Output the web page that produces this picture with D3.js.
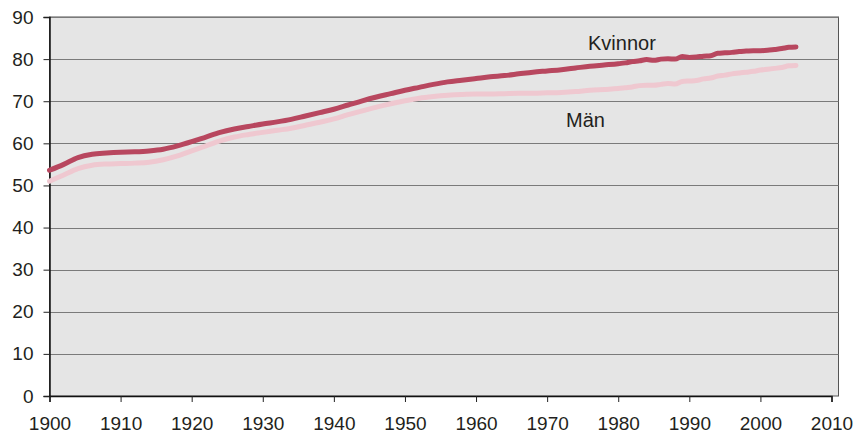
<!DOCTYPE html>
<html lang="sv">
	<head>
		<meta charset="utf-8">
		<title>Medellivslängd Kvinnor och Män</title>
		<script type="text/javascript" src="https://cdn.jsdelivr.net/npm/d3@7"></script>
		<style type="text/css">
			body { margin:0; background:#fff; }
			text { font-family:"Liberation Sans", Arial, sans-serif; fill:#231f20; }
		</style>
	</head>
	<body>
		<script type="text/javascript">

			//Width and height
			var w = 860;
			var h = 434;

			// data
			var years = [1900,1902,1904,1906,1908,1910,1912,1914,1916,1918,1920,1922,1924,1926,1928,1930,1932,1934,1936,1938,
				1940,1942,1944,1946,1948,1950,1952,1954,1956,1958,1960,1962,1964,1966,1968,1970,1972,1974,1976,1978,
				1980,1981,1982,1983,1984,1985,1986,1987,1988,1989,1990,1991,1992,1993,1994,1995,1996,1997,1998,1999,
				2000,2001,2002,2003,2004,2005];
			var kvinnor = [53.6,55.0,56.6,57.4,57.7,57.9,58.0,58.2,58.6,59.4,60.4,61.5,62.6,63.4,64.0,64.6,65.1,65.7,66.5,67.3,
				68.1,69.1,70.1,71.0,71.8,72.6,73.3,74.0,74.6,75.0,75.4,75.8,76.1,76.5,76.9,77.2,77.5,77.9,78.3,78.6,
				78.9,79.1,79.4,79.6,79.9,79.7,80.0,80.1,80.0,80.6,80.4,80.5,80.7,80.8,81.4,81.5,81.6,81.8,81.9,82.0,
				82.0,82.1,82.3,82.5,82.8,82.9];
			var man = [51.0,52.5,54.0,54.8,55.1,55.2,55.3,55.5,56.1,57.0,58.2,59.4,60.6,61.5,62.1,62.6,63.1,63.6,64.3,65.0,
				65.8,66.8,67.7,68.6,69.4,70.1,70.7,71.1,71.4,71.6,71.7,71.7,71.8,71.9,71.9,72.0,72.1,72.3,72.6,72.8,
				73.0,73.2,73.4,73.7,73.8,73.8,74.0,74.2,74.1,74.7,74.8,74.9,75.3,75.5,76.0,76.2,76.5,76.7,76.9,77.1,
				77.4,77.6,77.8,78.0,78.4,78.5];
			var xTicks = [1900,1910,1920,1930,1940,1950,1960,1970,1980,1990,2000,2010];
			var yTicks = [0,10,20,30,40,50,60,70,80,90];

			var svg = d3.select("body")
						.append("svg")
						.attr("width", w)
						.attr("height", h);

			var x = d3.scaleLinear().domain([1900, 2010]).range([49.5, 831.5]);
			var y = d3.scaleLinear().domain([0, 90]).range([396, 17]);

			// plot background
			svg.append("rect")
				.attr("x", 49.5)
				.attr("y", y(90))
				.attr("width", 838.5 - 49.5)
				.attr("height", y(0) - y(90))
				.attr("fill", "#e5e5e5")
				.attr("stroke", "#555")
				.attr("stroke-width", 1);

			// grid
			svg.selectAll("line.grid")
				.data(yTicks.slice(1))
				.enter()
				.append("line")
				.attr("class", "grid")
				.attr("x1", 49.5)
				.attr("x2", 838.5)
				.attr("y1", function(d) { return Math.round(y(d)) + 0.5; })
				.attr("y2", function(d) { return Math.round(y(d)) + 0.5; })
				.attr("stroke", "#7a7a7a")
				.attr("stroke-width", 1);

			// y axis
			var yAxis = svg.append("g")
				.attr("transform", "translate(49.5,0)")
				.call(d3.axisLeft(y).tickValues(yTicks).tickSize(6).tickPadding(10));
			yAxis.selectAll("text").style("font-size", "19px");

			// x axis
			var xAxis = svg.append("g")
				.attr("transform", "translate(0,396)")
				.call(d3.axisBottom(x).tickValues(xTicks).tickFormat(d3.format("d")).tickSize(6).tickPadding(15));
			xAxis.selectAll("text").style("font-size", "19px");
			svg.selectAll(".domain").attr("stroke", "#111").attr("stroke-width", 1.5);
			svg.selectAll(".tick line").attr("stroke", "#222");

			var line = d3.line()
				.x(function(d, i) { return x(years[i]); })
				.y(function(d) { return y(d); })
				.curve(d3.curveMonotoneX);

			svg.append("path")
				.attr("d", line(man))
				.attr("fill", "none")
				.attr("stroke", "#efc8d0")
				.attr("stroke-width", 5)
				.attr("stroke-linecap", "round")
				.attr("stroke-linejoin", "round");

			svg.append("path")
				.attr("d", line(kvinnor))
				.attr("fill", "none")
				.attr("stroke", "#b8475f")
				.attr("stroke-width", 5)
				.attr("stroke-linecap", "round")
				.attr("stroke-linejoin", "round");

			// labels
			svg.append("text")
				.attr("x", 588)
				.attr("y", 50)
				.style("font-size", "20px")
				.text("Kvinnor");

			svg.append("text")
				.attr("x", 566)
				.attr("y", 127)
				.style("font-size", "20px")
				.text("Män");

		</script>
	</body>
</html>
